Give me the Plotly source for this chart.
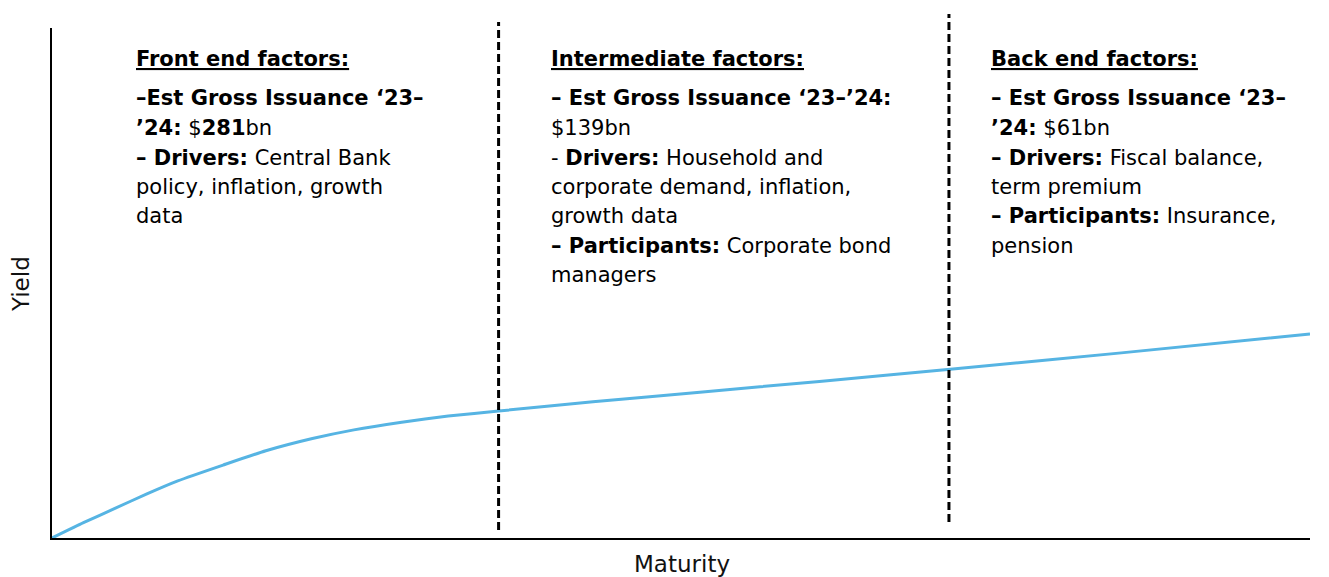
import plotly.graph_objects as go

# ---- data ----
maturity = [0.0, 0.25, 0.5, 0.75, 1.0, 1.36, 1.7, 2.07, 2.4, 2.78, 3.15, 3.55, 4.3, 5.15, 6.1, 7.14, 8.5, 10.0]
yield_vals = [0.0, 0.3, 0.58, 0.86, 1.12, 1.43, 1.71, 1.95, 2.12, 2.27, 2.39, 2.49, 2.67, 2.86, 3.07, 3.31, 3.63, 4.0]
dividers = [3.55, 7.13]
x_title = "Maturity"
y_title = "Yield"

left_lines = [
    "<b>–Est Gross Issuance ‘23–</b>",
    "<b>’24:</b> $<b>281</b>bn",
    "<b>– Drivers:</b> Central Bank",
    "policy, inflation, growth",
    "data",
]
mid_lines = [
    "<b>– Est Gross Issuance ‘23–’24:</b>",
    "$139bn",
    "- <b>Drivers:</b> Household and",
    "corporate demand, inflation,",
    "growth data",
    "<b>– Participants:</b> Corporate bond",
    "managers",
]
right_lines = [
    "<b>– Est Gross Issuance ‘23–</b>",
    "<b>’24:</b> $61bn",
    "<b>– Drivers:</b> Fiscal balance,",
    "term premium",
    "<b>– Participants:</b> Insurance,",
    "pension",
]
headers = ["Front end factors:", "Intermediate factors:", "Back end factors:"]

# ---- layout helpers (page body has an 8px margin) ----
OFF = 8
W, H = 1329 - OFF, 577 - OFF
L, R, T, B = 52 - OFF, 1310 - OFF, 28 - OFF, 538 - OFF
def px(xp):
    return (xp - OFF - L) / (R - L)
def py(yp):
    return (B - (yp - OFF)) / (B - T)

FONT = "DejaVu Sans"
FS = 21
col_x = [134, 549, 989]
header_y = 59
body_y = [98, 128, 157.5, 187, 216, 245.5, 275]

fig = go.Figure()
fig.add_trace(go.Scatter(
    x=maturity, y=yield_vals, mode="lines",
    line=dict(color="#56B4E3", width=3, shape="spline", smoothing=0.6),
    hoverinfo="skip", showlegend=False,
))

shapes = []
div_tops = [22, 14]
div_bots = [530, 522]
for d, t, b in zip(dividers, div_tops, div_bots):
    shapes.append(dict(type="line", xref="x", yref="paper", x0=d, x1=d,
                       y0=py(b), y1=py(t),
                       line=dict(color="black", width=3, dash="8px,4px")))

annotations = []
for cx, head, lines in zip(col_x, headers, [left_lines, mid_lines, right_lines]):
    annotations.append(dict(
        xref="paper", yref="paper", x=px(cx), y=py(header_y),
        xanchor="left", yanchor="middle", showarrow=False,
        text="<b><span style='text-decoration:underline'>" + head + "</span></b>",
        font=dict(family=FONT, size=FS, color="black"),
    ))
    for i, ln in enumerate(lines):
        annotations.append(dict(
            xref="paper", yref="paper", x=px(cx), y=py(body_y[i]),
            xanchor="left", yanchor="middle", showarrow=False,
            text=ln, font=dict(family=FONT, size=FS, color="black"),
        ))

annotations.append(dict(xref="paper", yref="paper", x=px(682), y=py(564),
                        xanchor="center", yanchor="middle", showarrow=False,
                        text=x_title, font=dict(family=FONT, size=23, color="#111111")))
annotations.append(dict(xref="paper", yref="paper", x=px(21), y=py(284),
                        xanchor="center", yanchor="middle", showarrow=False, textangle=-90,
                        text=y_title, font=dict(family=FONT, size=23, color="#111111")))

fig.update_layout(
    width=W, height=H,
    margin=dict(l=L, r=W - R, t=T, b=H - B),
    paper_bgcolor="white", plot_bgcolor="white",
    xaxis=dict(range=[0, 10], showline=True, linecolor="black", linewidth=2,
               showgrid=False, zeroline=False, showticklabels=False, ticks=""),
    yaxis=dict(range=[0, 10], showline=True, linecolor="black", linewidth=2,
               showgrid=False, zeroline=False, showticklabels=False, ticks=""),
    shapes=shapes, annotations=annotations, showlegend=False,
)

fig.write_html("out.html")
